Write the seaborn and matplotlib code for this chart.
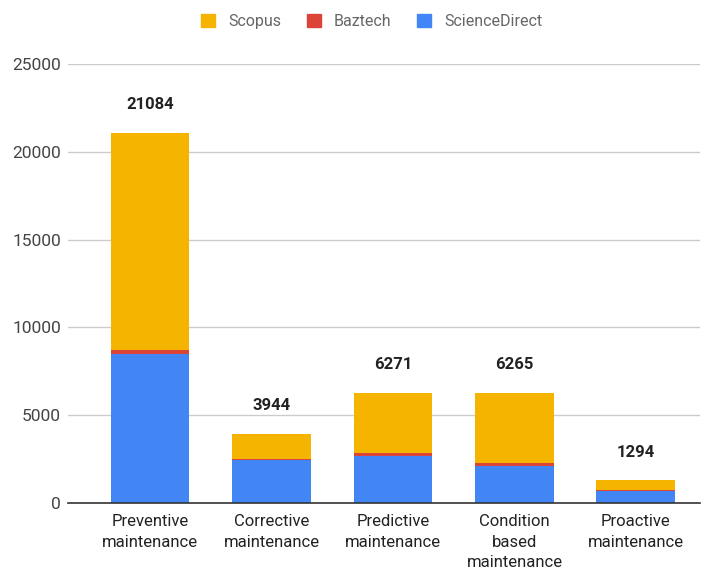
import numpy as np
import pandas as pd
import matplotlib
matplotlib.use("Agg")
import matplotlib.pyplot as plt
from matplotlib.patches import Patch
import seaborn as sns

categories = ["Preventive\nmaintenance", "Corrective\nmaintenance", "Predictive\nmaintenance",
              "Condition\nbased\nmaintenance", "Proactive\nmaintenance"]
science_direct = [8470, 2450, 2680, 2110, 667]
baztech = [245, 80, 150, 150, 80]
totals = [21084, 3944, 6271, 6265, 1294]
scopus = [t - s - b for t, s, b in zip(totals, science_direct, baztech)]

colors = {"Scopus": "#F4B400", "Baztech": "#DB4437", "ScienceDirect": "#4285F4"}

df = pd.DataFrame({
    "category": categories,
    "sd": science_direct,
    "sd_bz": np.array(science_direct) + np.array(baztech),
    "total": np.array(science_direct) + np.array(baztech) + np.array(scopus),
})

sns.set_style("white")
plt.rcParams["font.family"] = ["Roboto", "DejaVu Sans"]

fig = plt.figure(figsize=(7.08, 5.72), dpi=100)
ax = fig.add_axes([68 / 708, 69 / 572, 632 / 708, 439 / 572])

# stacked bars by overlaying cumulative heights
for col, key, z in [("total", "Scopus", 2), ("sd_bz", "Baztech", 3), ("sd", "ScienceDirect", 4)]:
    sns.barplot(data=df, x="category", y=col, color=colors[key], width=0.65,
                saturation=1, linewidth=0, edgecolor=colors[key], ax=ax, zorder=z)

for i, t in enumerate(totals):
    ax.text(i, t + 1600, str(t), ha="center", va="center", fontsize=12,
            fontweight="bold", color="#222222")

ax.set_ylim(0, 25000)
ax.set_xlim(-0.675, 4.527)
ax.set_yticks(range(0, 25001, 5000))
ax.yaxis.grid(True, color="#cccccc", linewidth=1, zorder=0)
ax.set_axisbelow(True)
ax.set_xlabel("")
ax.set_ylabel("")
for s in ["top", "right", "left"]:
    ax.spines[s].set_visible(False)
ax.spines["bottom"].set_color("#333333")
ax.spines["bottom"].set_linewidth(1.2)
ax.spines["bottom"].set_zorder(5)
ax.tick_params(axis="y", length=0, pad=5, labelsize=12.5, labelcolor="#444444")
ax.tick_params(axis="x", length=0, pad=8, labelsize=12, labelcolor="#222222")
for lbl in ax.get_xticklabels():
    lbl.set_linespacing(1.45)

handles = [Patch(facecolor=colors[k], edgecolor=colors[k], label=k) for k in colors]
leg = fig.legend(handles=handles, loc="center", bbox_to_anchor=(0.525, 0.962), ncol=3,
                 frameon=False, fontsize=11.5, handlelength=0.9, handleheight=0.9,
                 columnspacing=1.6, handletextpad=0.8)
for txt in leg.get_texts():
    txt.set_color("#666666")

fig.savefig("out.png", dpi=100)
